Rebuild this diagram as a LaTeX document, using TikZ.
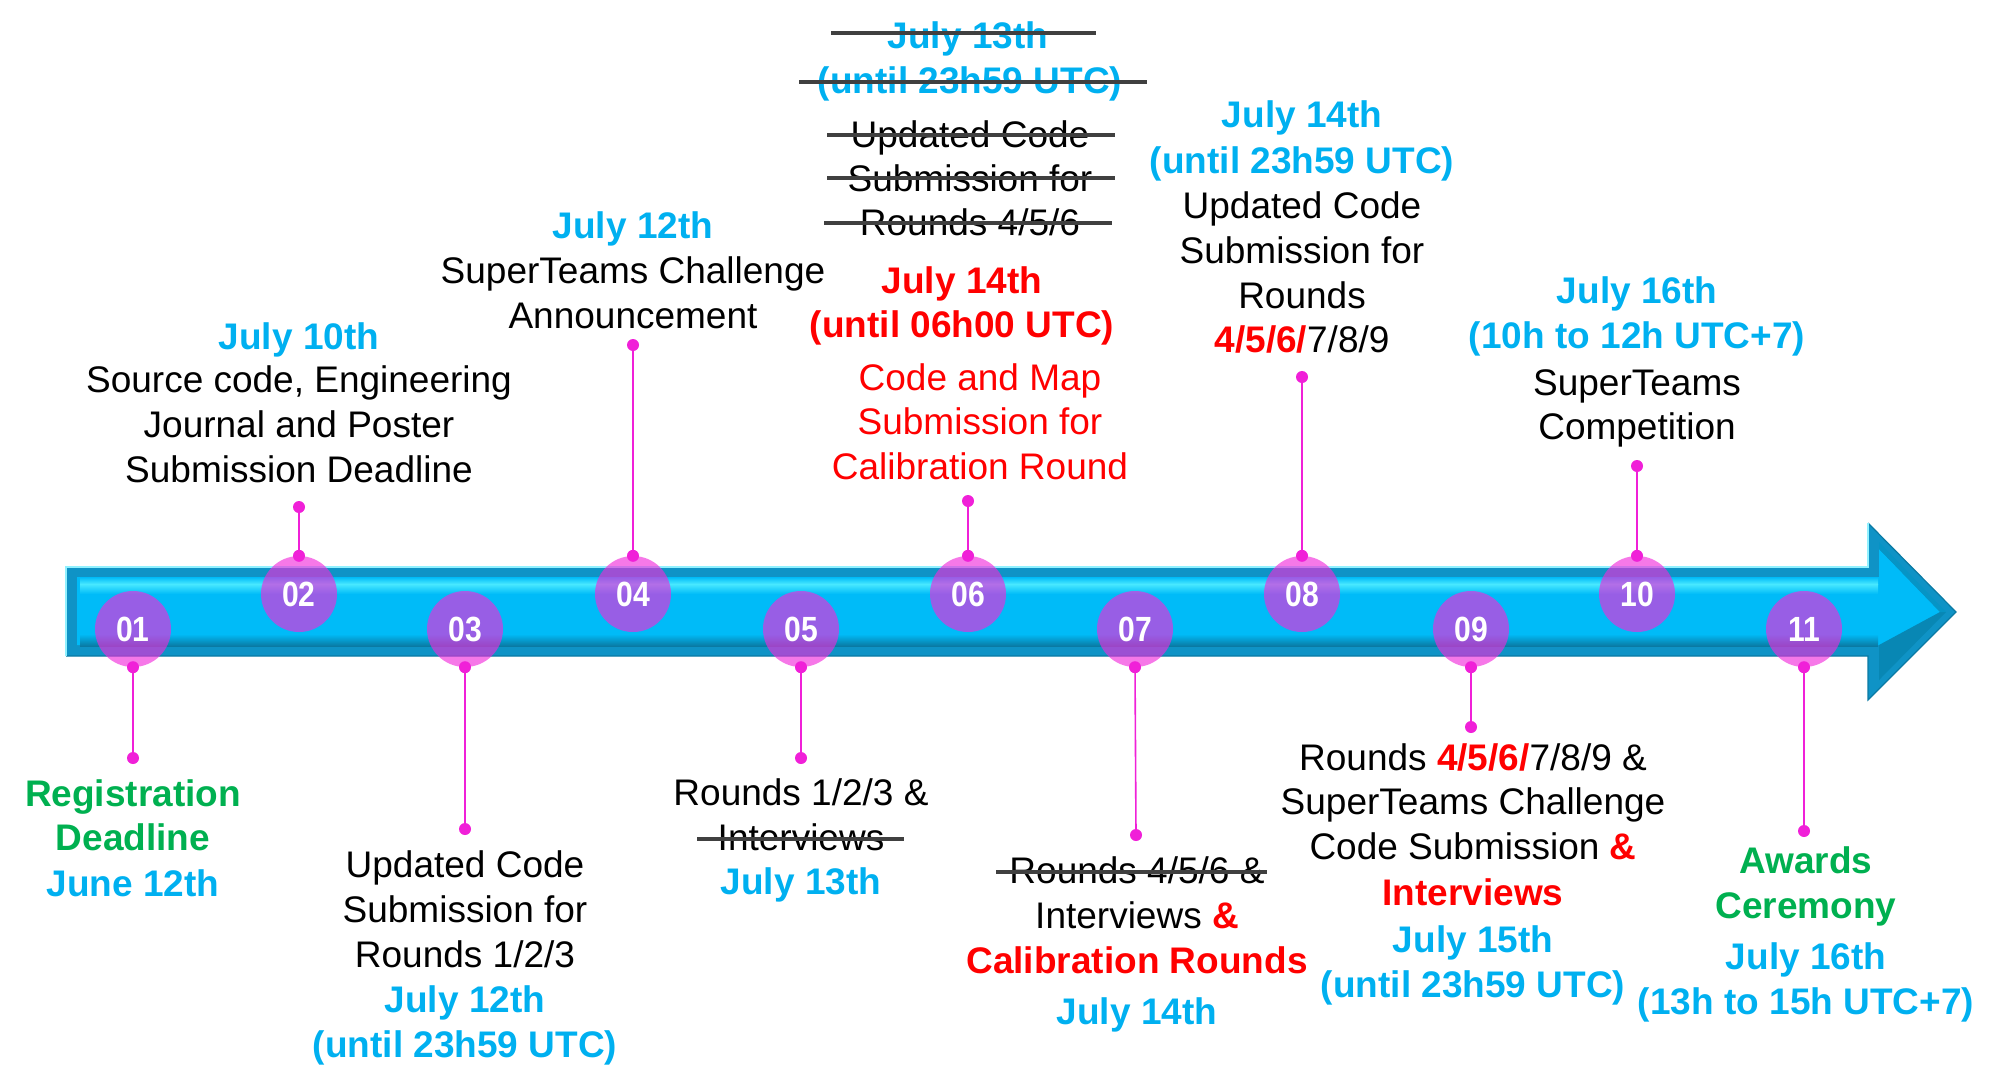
\documentclass[tikz,border=0pt]{standalone}
\usepackage{fontspec}
\setmainfont{Liberation Sans}
\newfontfamily\numfont[FakeStretch=0.86]{Liberation Sans}
\usetikzlibrary{calc}
\definecolor{myblue}{HTML}{00B0F0}
\definecolor{mygreen}{HTML}{00B050}
\definecolor{myred}{HTML}{FF0000}
\definecolor{strikec}{HTML}{404040}
\definecolor{barc}{HTML}{00BBF8}
\definecolor{baredge}{HTML}{0F93C6}
\definecolor{barlight}{HTML}{48E8FF}
\definecolor{bardark}{HTML}{0A7AA3}
\definecolor{circc}{RGB}{241,41,219}
\definecolor{dotc}{HTML}{F020D8}
\tikzset{
  txt/.style={anchor=base, inner sep=0pt, font=\fontsize{37}{45}\selectfont},
  bt/.style={txt, text=myblue, font=\fontsize{37}{45}\selectfont\bfseries},
  gt/.style={txt, text=mygreen, font=\fontsize{37}{45}\selectfont\bfseries},
  rt/.style={txt, text=myred, font=\fontsize{37}{45}\selectfont\bfseries},
  rn/.style={txt, text=myred},
  circ/.style={circle, minimum size=76pt, inner sep=0pt, fill=circc, fill opacity=0.63, text opacity=1, text=white, font=\numfont\fontsize{35}{35}\selectfont\bfseries},
  dotn/.style={circle, fill=dotc, minimum size=12pt, inner sep=0pt},
  stem/.style={draw=dotc, line width=1.6pt},
  strike/.style={draw=strikec, line width=4.5pt}
}
\begin{document}
\begin{tikzpicture}[x=1pt,y=-1pt]
\useasboundingbox (0,0) rectangle (2001,1090);
% ---- bar
\fill[baredge] (66,567) -- (1868,567) -- (1868,523) -- (1956,612) -- (1868,700) -- (1868,656) -- (66,656) -- cycle;
\draw[bardark, line width=1.2pt] (1868,523) -- (1956,612) -- (1868,700) -- (1868,656) -- (66,656);
\draw[barlight!60!white, line width=1.2pt] (66,656) -- (66,567) -- (1868,567) -- (1868,523);
\fill[barc] (77,577) -- (1879,577) -- (1879,549) -- (1940,612) -- (1879,675) -- (1879,645) -- (77,645) -- cycle;
\shade[top color=barc, bottom color=barlight] (80,577) rectangle (1878,584);
\shade[top color=barlight, bottom color=barc] (80,584) rectangle (1878,594);
\shade[top color=barc, bottom color=bardark] (80,634) rectangle (1878,646);
\fill[bardark!80!barc] (1879,645) -- (1940,612) -- (1946,612) -- (1879,680) -- cycle;
\fill[bardark!60!barc] (1879,549) -- (1940,612) -- (1946,612) -- (1879,542) -- cycle;
% ---- circles
\node[circ] (c01) at (133,629) {01};
\node[circ] (c02) at (299,594) {02};
\node[circ] (c03) at (465,629) {03};
\node[circ] (c04) at (633,594) {04};
\node[circ] (c05) at (801,629) {05};
\node[circ] (c06) at (968,594) {06};
\node[circ] (c07) at (1135,629) {07};
\node[circ] (c08) at (1302,594) {08};
\node[circ] (c09) at (1471,629) {09};
\node[circ] (c10) at (1637,594) {10};
\node[circ] (c11) at (1804,629) {11};
% ---- stem end points
\coordinate (e01) at (133,758);
\coordinate (e02) at (299,507);
\coordinate (e03) at (465,829);
\coordinate (e04) at (633,345);
\coordinate (e05) at (801,758);
\coordinate (e06) at (968,501);
\coordinate (e07) at (1136,835);
\coordinate (e08) at (1302,377);
\coordinate (e09) at (1471,727);
\coordinate (e10) at (1637,466);
\coordinate (e11) at (1804,831);
\foreach \i/\a in {01/south,02/north,03/south,04/north,05/south,06/north,07/south,08/north,09/south,10/north,11/south}{
  \draw[stem] (c\i.\a) -- (e\i);
  \node[dotn] (s\i) at (c\i.\a) {};
  \node[dotn] (t\i) at (e\i) {};
}
% ---- 01
\node[gt] (a1) at (133,806) {Registration};
\node[gt] (a2) at (133,850) {Deadline};
\node[bt] (a3) at (133,896) {June 12th};
% ---- 02
\node[bt] (b1) at (299,349) {July 10th};
\node[txt] (b2) at (299,392) {Source code, Engineering};
\node[txt] (b3) at (299,437) {Journal and Poster};
\node[txt] (b4) at (299,482) {Submission Deadline};
% ---- 03
\node[txt] (d1) at (465,877) {Updated Code};
\node[txt] (d2) at (465,922) {Submission for};
\node[txt] (d3) at (465,967) {Rounds 1/2/3};
\node[bt] (d4) at (465,1012) {July 12th};
\node[bt] (d5) at (465,1057) {(until 23h59 UTC)};
% ---- 04
\node[bt] (f1) at (633,238) {July 12th};
\node[txt] (f2) at (633,283) {SuperTeams Challenge};
\node[txt] (f3) at (633,328) {Announcement};
% ---- 05
\node[txt] (g1) at (801,805) {Rounds 1/2/3 \&};
\node[txt] (g2) at (801,850) {Interviews};
\node[bt] (g3) at (801,894) {July 13th};
\draw[strike] (697,839) -- (904,839);
% ---- 06
\node[bt] (h1) at (968,48) {July 13th};
\node[bt] (h2) at (970,93) {(until 23h59 UTC)};
\node[txt] (h3) at (970,147) {Updated Code};
\node[txt] (h4) at (970,191) {Submission for};
\node[txt] (h5) at (970,235) {Rounds 4/5/6};
\draw[strike] (831,33) -- (1096,33);
\draw[strike] (799,82) -- (1147,82);
\draw[strike] (827,135) -- (1115,135);
\draw[strike] (827,178) -- (1115,178);
\draw[strike] (824,223) -- (1112,223);
\node[rt] (h6) at (962,293) {July 14th};
\node[rt] (h7) at (962,337) {(until 06h00 UTC)};
\node[rn] (h8) at (980,390) {Code and Map};
\node[rn] (h9) at (980,434) {Submission for};
\node[rn] (h10) at (980,479) {Calibration Round};
% ---- 07
\node[txt] (k1) at (1137,883) {Rounds 4/5/6 \&};
\draw[strike] (996,872) -- (1267,872);
\node[txt] (k2) at (1137,928) {Interviews {\color{myred}\bfseries\&}};
\node[rt] (k3) at (1137,973) {Calibration Rounds};
\node[bt] (k4) at (1137,1024) {July 14th};
% ---- 08
\node[bt] (m1) at (1302,127) {July 14th};
\node[bt] (m2) at (1302,173) {(until 23h59 UTC)};
\node[txt] (m3) at (1302,218) {Updated Code};
\node[txt] (m4) at (1302,263) {Submission for};
\node[txt] (m5) at (1302,308) {Rounds};
\node[txt] (m6) at (1302,352) {{\color{myred}\bfseries 4/5/6/}7/8/9};
% ---- 09
\node[txt] (p1) at (1473,770) {Rounds {\color{myred}\bfseries 4/5/6/}7/8/9 \&};
\node[txt] (p2) at (1473,814) {SuperTeams Challenge};
\node[txt] (p3) at (1473,859) {Code Submission {\color{myred}\bfseries\&}};
\node[rt] (p4) at (1473,905) {Interviews};
\node[bt] (p5) at (1473,952) {July 15th};
\node[bt] (p6) at (1473,997) {(until 23h59 UTC)};
% ---- 10
\node[bt] (q1) at (1637,303) {July 16th};
\node[bt] (q2) at (1637,348) {(10h to 12h UTC+7)};
\node[txt] (q3) at (1637,395) {SuperTeams};
\node[txt] (q4) at (1637,439) {Competition};
% ---- 11
\node[gt] (r1) at (1806,873) {Awards};
\node[gt] (r2) at (1806,918) {Ceremony};
\node[bt] (r3) at (1806,969) {July 16th};
\node[bt] (r4) at (1806,1014) {(13h to 15h UTC+7)};
\end{tikzpicture}
\end{document}
